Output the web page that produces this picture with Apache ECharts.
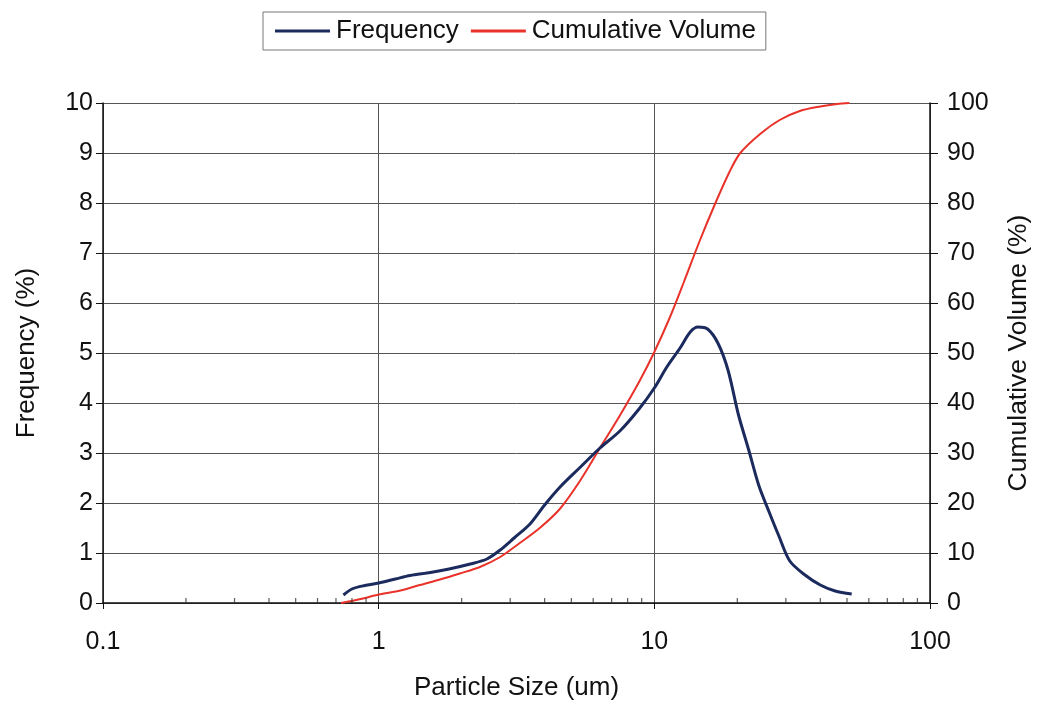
<!DOCTYPE html>
<html>
<head>
<meta charset="utf-8">
<script src="https://cdn.jsdelivr.net/npm/echarts@6/dist/echarts.min.js"></script>
<style>html,body{margin:0;padding:0;background:#fff;}#c{width:1049px;height:713px;}</style>
</head>
<body>
<div id="c"></div>
<script>
// Frequency (%) vs particle size (um)
const freqSize = [0.745,0.8,0.89,1.0,1.15,1.3,1.54,1.8,2.15,2.47,2.76,3.1,3.54,4.0,4.55,5.35,6.35,7.5,8.8,10,11.1,12.4,13.5,14.4,15.6,17.0,18.5,20.2,22.0,23.9,26.0,28.3,31.0,35.2,40,45.3,52];
const freqValues = [0.16,0.28,0.35,0.4,0.48,0.55,0.61,0.68,0.78,0.88,1.06,1.3,1.58,1.96,2.32,2.7,3.1,3.44,3.88,4.3,4.72,5.1,5.42,5.52,5.48,5.2,4.66,3.76,3.06,2.36,1.84,1.34,0.84,0.56,0.36,0.24,0.18];
// Cumulative volume (%) vs particle size (um)
const cumSize = [0.73,0.86,1.0,1.2,1.41,1.67,1.97,2.33,2.76,3.25,3.84,4.54,5.37,6.35,7.5,8.86,10,11.4,12.8,14.6,16.6,18.8,20.5,24.2,28.5,33.7,40,46,51];
const cumValues = [0,0.8,1.7,2.5,3.6,4.7,5.9,7.2,9.2,12.0,15.0,18.8,24.4,31.0,37.5,44.5,50.2,57.2,64.2,72.4,79.8,86.4,90,93.8,96.6,98.4,99.3,99.8,100];
// log axis minor tick positions
const minorTickValues = [0.2,0.3,0.4,0.5,0.6,0.7,0.8,0.9,2,3,4,5,6,7,8,9,20,30,40,50,60,70,80,90];
const xTickLabels = ['0.1','1','10','100'];

const font = 'Liberation Sans, Arial, sans-serif';
const chart = echarts.init(document.getElementById('c'));
chart.setOption({
  animation: false,
  backgroundColor: '#fff',
  textStyle: {fontFamily: font},
  legend: {
    data: ['Frequency', 'Cumulative Volume'],
    left: 263, top: 12,
    padding: [6, 10, 6, 12],
    borderColor: '#777', borderWidth: 1,
    itemGap: 12,
    itemWidth: 55, itemHeight: 3,
    icon: 'rect',
    textStyle: {fontSize: 26, color: '#111', fontFamily: font, padding: [0, 0, 0, 1]}
  },
  grid: {left: 103, right: 119, top: 103, bottom: 110, containLabel: false},
  xAxis: {
    type: 'log', logBase: 10, min: 0.1, max: 100,
    name: 'Particle Size (um)', nameLocation: 'middle', nameGap: 72,
    nameTextStyle: {fontSize: 26, color: '#111', fontFamily: font},
    axisLine: {show: true, lineStyle: {color: '#111', width: 1.5}},
    axisTick: {show: true, length: 6, lineStyle: {color: '#111'}},
    axisLabel: {fontSize: 25, color: '#111', margin: 27, fontFamily: font,
      formatter: v => { const i = Math.round(Math.log10(v)) + 1; return xTickLabels[i] !== undefined ? xTickLabels[i] : String(v); }},
    splitLine: {show: true, lineStyle: {color: '#555', width: 1}}
  },
  yAxis: [
    {
      type: 'value', min: 0, max: 10, interval: 1,
      name: 'Frequency (%)', nameLocation: 'middle', nameGap: 63, nameRotate: 90,
      nameTextStyle: {fontSize: 26, color: '#111', fontFamily: font},
      axisLine: {show: true, lineStyle: {color: '#111', width: 1.5}},
      axisTick: {show: true, length: 7, lineStyle: {color: '#111'}},
      axisLabel: {fontSize: 25, color: '#111', margin: 10, fontFamily: font},
      splitLine: {show: true, lineStyle: {color: '#555', width: 1}}
    },
    {
      type: 'value', min: 0, max: 100, interval: 10, position: 'right',
      name: 'Cumulative Volume (%)', nameLocation: 'middle', nameGap: 75, nameRotate: 90,
      nameTextStyle: {fontSize: 26.5, color: '#111', fontFamily: font},
      axisLine: {show: true, lineStyle: {color: '#111', width: 1.5}},
      axisTick: {show: true, length: 8, lineStyle: {color: '#111'}},
      axisLabel: {fontSize: 25, color: '#111', margin: 17, fontFamily: font},
      splitLine: {show: false}
    }
  ],
  series: [
    {
      name: 'Cumulative Volume', type: 'line', yAxisIndex: 1, showSymbol: false, smooth: 0.3,
      data: cumSize.map((x, i) => [x, cumValues[i]]),
      lineStyle: {color: '#e8322a', width: 2}, itemStyle: {color: '#e8322a'}, z: 3
    },
    {
      name: 'Frequency', type: 'line', yAxisIndex: 0, showSymbol: false, smooth: 0.3,
      data: freqSize.map((x, i) => [x, freqValues[i]]),
      lineStyle: {color: '#1c2b5e', width: 3}, itemStyle: {color: '#1c2b5e'}, z: 4
    },
    {
      name: 'minorTicks', type: 'scatter', yAxisIndex: 0, silent: true,
      symbol: 'rect', symbolSize: [1.2, 5], symbolOffset: [0, -2.5],
      itemStyle: {color: '#333'},
      data: minorTickValues.map(v => [v, 0]), z: 5
    }
  ]
});
</script>
</body>
</html>
